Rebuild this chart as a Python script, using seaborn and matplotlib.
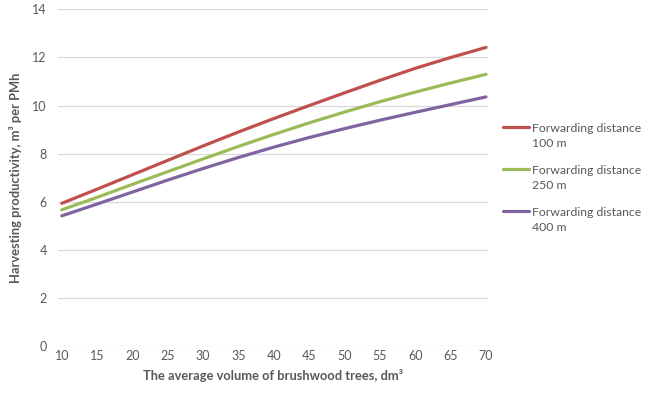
import pandas as pd
import matplotlib
matplotlib.use("Agg")
import matplotlib.pyplot as plt
import seaborn as sns

# values
volume = [10, 15, 20, 25, 30, 35, 40, 45, 50, 55, 60, 65, 70]
dist_100 = [5.93, 6.52, 7.12, 7.72, 8.32, 8.9, 9.46, 10.0, 10.53, 11.05, 11.55, 12.0, 12.42]
dist_250 = [5.66, 6.18, 6.72, 7.25, 7.78, 8.3, 8.8, 9.28, 9.73, 10.16, 10.56, 10.94, 11.3]
dist_400 = [5.41, 5.9, 6.4, 6.9, 7.38, 7.84, 8.27, 8.67, 9.04, 9.39, 9.72, 10.04, 10.36]
series_names = ["Forwarding distance\n100 m", "Forwarding distance\n250 m", "Forwarding distance\n400 m"]
y_ticks = [0, 2, 4, 6, 8, 10, 12, 14]

sns.set_theme(style="white")
plt.rcParams['font.family'] = ['Lato', 'DejaVu Sans']

df = pd.DataFrame({"volume": volume,
                   series_names[0]: dist_100,
                   series_names[1]: dist_250,
                   series_names[2]: dist_400})
long_df = df.melt(id_vars="volume", var_name="series", value_name="productivity")

grey = "#595959"
palette = {series_names[0]: "#c0504d", series_names[1]: "#9bbb59", series_names[2]: "#8064a2"}

fig = plt.figure(figsize=(6.5, 3.93), dpi=100)
ax = fig.add_axes([0.089, 0.12, 0.662, 0.856])

sns.lineplot(data=long_df, x="volume", y="productivity", hue="series",
             palette=palette, linewidth=2.3, ax=ax)

ax.set_xlim(9.45, 70.3)
ax.set_ylim(0, 14)
ax.set_xticks(volume)
ax.set_yticks(y_ticks)
ax.yaxis.grid(True, color="#d9d9d9", linewidth=0.9)
ax.set_axisbelow(True)
for s in ax.spines.values():
    s.set_visible(False)
ax.tick_params(axis="both", length=0, labelsize=9, labelcolor=grey)
ax.tick_params(axis="y", pad=8)
ax.tick_params(axis="x", pad=3)

ax.set_xlabel("The average volume of brushwood trees, dm³", fontsize=9.3,
              fontweight="bold", color=grey, labelpad=5)
ax.set_ylabel("Harvesting productivity, m³ per PMh", fontsize=9.3,
              fontweight="bold", color=grey, labelpad=7)

leg = ax.legend(loc="center left", bbox_to_anchor=(1.0, 0.5), frameon=False,
                fontsize=8.8, handlelength=2.15, handletextpad=0.25,
                labelspacing=1.3, borderaxespad=0.8)
for t in leg.get_texts():
    t.set_color(grey)
    t.set_linespacing(1.45)
# put the line next to the first text line, like Excel does
for col in leg._legend_handle_box.get_children():
    for row in col.get_children():
        row.align = "top"

fig.savefig("out.png", dpi=100)
